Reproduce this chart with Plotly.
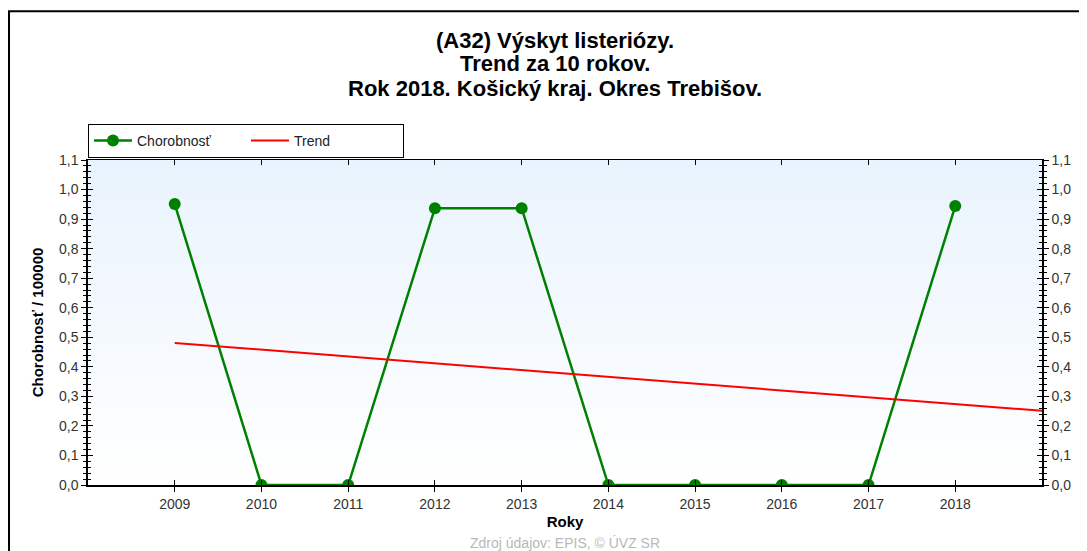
import plotly.graph_objects as go

years = [2009, 2010, 2011, 2012, 2013, 2014, 2015, 2016, 2017, 2018]
chorobnost = [0.951, 0.0, 0.0, 0.937, 0.937, 0.0, 0.0, 0.0, 0.0, 0.944]
trend_x = [2009, 2019]
trend_y = [0.481, 0.251]
x_range = [2008, 2019]
y_range = [0, 1.1]
y_ticks = [0.0, 0.1, 0.2, 0.3, 0.4, 0.5, 0.6, 0.7, 0.8, 0.9, 1.0, 1.1]

title_lines = ["(A32) Výskyt listeriózy.", "Trend za 10 rokov.", "Rok 2018. Košický kraj. Okres Trebišov."]
title_y = [1.3692, 1.2954, 1.2185]
FONT = "Liberation Sans, Arial, sans-serif"

fig = go.Figure()

# gradient background
fig.add_trace(go.Scatter(
    x=[x_range[0], x_range[1], x_range[1], x_range[0]],
    y=[y_range[0], y_range[0], y_range[1], y_range[1]],
    fill="toself", mode="none",
    fillgradient=dict(type="vertical", colorscale=[[0, "#ffffff"], [1, "#e9f3fd"]]),
    showlegend=False, hoverinfo="skip"))

fig.add_trace(go.Scatter(
    x=years, y=chorobnost, name="Chorobnosť", mode="lines+markers",
    line=dict(color="#008000", width=2.5),
    marker=dict(color="#008000", size=12), cliponaxis=True))

fig.add_trace(go.Scatter(
    x=trend_x, y=trend_y, name="Trend", mode="lines",
    line=dict(color="#ff0000", width=2)))

# dummy traces for extra axes (crossing ticks)
fig.add_trace(go.Scatter(x=[None], y=[None], xaxis="x2", yaxis="y2", showlegend=False, hoverinfo="skip"))
fig.add_trace(go.Scatter(x=[None], y=[None], xaxis="x", yaxis="y3", showlegend=False, hoverinfo="skip"))
fig.add_trace(go.Scatter(x=[None], y=[None], xaxis="x3", yaxis="y4", showlegend=False, hoverinfo="skip"))

tickfont = dict(family=FONT, size=14, color="#333333")
minor_out = dict(dtick=0.02, ticklen=3, ticks="outside", tickcolor="black", tickwidth=1)
minor_in = dict(dtick=0.02, ticklen=3, ticks="inside", tickcolor="black", tickwidth=1)

fig.update_layout(
    width=1079, height=543,
    margin=dict(l=80, r=45, t=152, b=66),
    paper_bgcolor="white", plot_bgcolor="white",
    separators=", ",
    font=dict(family=FONT, color="black"),
    showlegend=True,
    legend=dict(orientation="h", x=0, xanchor="left", y=1.1108, yanchor="top",
                bordercolor="black", borderwidth=1, bgcolor="white",
                font=dict(family=FONT, size=14, color="#222"),
                entrywidth=104, itemwidth=38, tracegroupgap=0),
    xaxis=dict(range=x_range, tickvals=years, ticks="outside", ticklen=5,
               tickcolor="black", showline=True, linecolor="black", linewidth=1.5,
               showgrid=False, zeroline=False, tickfont=tickfont,
               title=dict(text="<b>Roky</b>", font=dict(family=FONT, size=15, color="black"), standoff=6)),
    xaxis2=dict(range=x_range, tickvals=years, ticks="inside", ticklen=5,
                tickcolor="black", overlaying="x", side="top", showline=True,
                linecolor="black", linewidth=1, showticklabels=False, showgrid=False, zeroline=False),
    xaxis3=dict(range=x_range, tickvals=years, ticks="inside", ticklen=5,
                tickcolor="black", overlaying="x", side="bottom", showline=False,
                showticklabels=False, showgrid=False, zeroline=False),
    yaxis=dict(range=y_range, tickvals=y_ticks, tickformat=".1f", ticks="outside", ticklen=5,
               tickcolor="black", showline=True, linecolor="black", linewidth=1.5,
               showgrid=False, zeroline=False, tickfont=tickfont, minor=minor_out,
               title=dict(text="<b>Chorobnosť / 100000</b>", font=dict(family=FONT, size=15, color="black"), standoff=12)),
    yaxis2=dict(range=y_range, tickvals=y_ticks, tickformat=".1f", ticks="outside", ticklen=5,
                tickcolor="black", overlaying="y", side="right", showline=True,
                linecolor="black", linewidth=1.5, showgrid=False, zeroline=False,
                tickfont=tickfont, minor=minor_out),
    yaxis3=dict(range=y_range, tickvals=y_ticks, ticks="inside", ticklen=5, tickcolor="black",
                overlaying="y", side="left", showline=False, showticklabels=False,
                showgrid=False, zeroline=False, minor=minor_in),
    yaxis4=dict(range=y_range, tickvals=y_ticks, ticks="inside", ticklen=5, tickcolor="black",
                overlaying="y", side="right", showline=False, showticklabels=False,
                showgrid=False, zeroline=False, minor=minor_in),
)

for line, ty in zip(title_lines, title_y):
    fig.add_annotation(text="<b>" + line + "</b>",
                       xref="paper", yref="paper", x=0.4895, y=ty,
                       xanchor="center", yanchor="middle", showarrow=False,
                       font=dict(family=FONT, size=22, color="black"))

fig.add_annotation(text="Zdroj údajov: EPIS, © ÚVZ SR", xref="paper", yref="paper",
                   x=0.5, y=-0.1785, xanchor="center", yanchor="middle", showarrow=False,
                   font=dict(family=FONT, size=14, color="#b8b8b8"))

# outer frame
fig.add_shape(type="rect", xref="paper", yref="paper", x0=-0.0828, x1=1.2,
              y0=-0.6, y1=1.458, line=dict(color="black", width=2), fillcolor="rgba(0,0,0,0)",
              layer="below")

fig.write_html("out.html")
